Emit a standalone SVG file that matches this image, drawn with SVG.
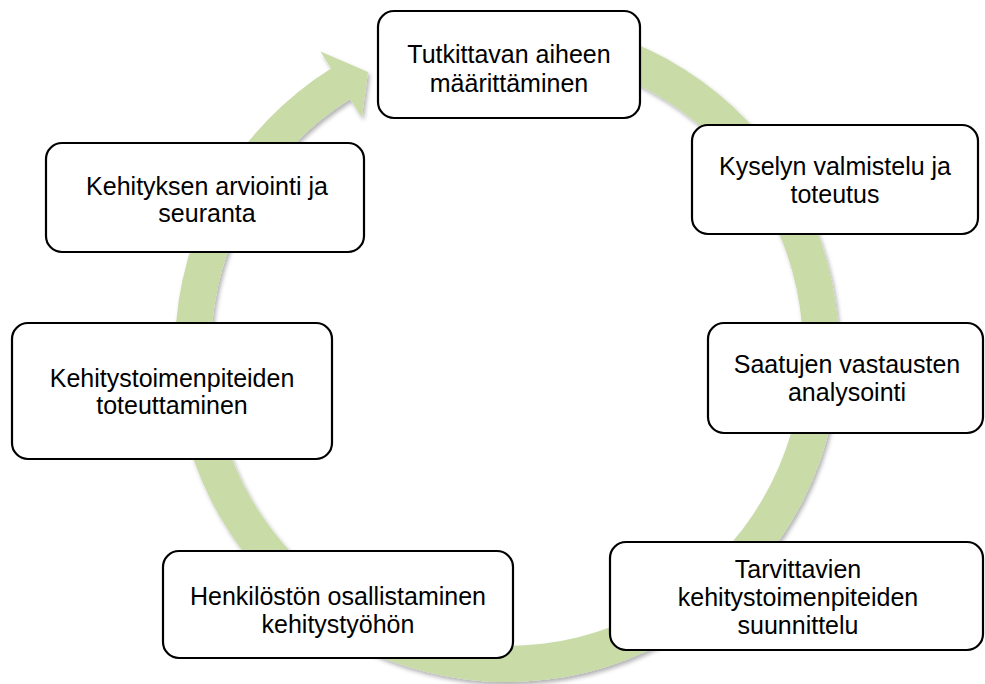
<svg xmlns="http://www.w3.org/2000/svg" width="985" height="684" viewBox="0 0 985 684">
  <style>
    .box { fill: #ffffff; stroke: #000000; stroke-width: 2.2; }
    .lbl { font-family: "Liberation Sans", Arial, sans-serif; font-size: 25px; fill: #000000; text-anchor: middle; }
    .ring { fill: #c9dba7; }
  </style>
  <defs>
    <filter id="shadow" x="-10%" y="-10%" width="120%" height="120%">
      <feDropShadow dx="2" dy="3" stdDeviation="2" flood-color="#000000" flood-opacity="0.3"/>
    </filter>
  </defs>
  <rect width="985" height="684" fill="#ffffff"/>

  <g id="connectors">
    <path class="ring" filter="url(#shadow)" d="M449.35,23.04 A332,332 0 1 1 331.07,68.45 L320.47,51.49 L368,72 L361.8,117.6 L350.14,98.98 A296,296 0 1 0 455.6,58.5 Z"/>
  </g>

  <g id="node1">
    <rect class="box" x="378" y="11" width="262" height="107" rx="16"/>
    <text class="lbl" x="509" y="63">Tutkittavan aiheen</text>
    <text class="lbl" x="509" y="92">määrittäminen</text>
  </g>
  <g id="node2">
    <rect class="box" x="692" y="125" width="286" height="109" rx="16"/>
    <text class="lbl" x="835" y="175">Kyselyn valmistelu ja</text>
    <text class="lbl" x="835" y="203">toteutus</text>
  </g>
  <g id="node3">
    <rect class="box" x="708" y="323" width="275" height="110" rx="16"/>
    <text class="lbl" x="847" y="373">Saatujen vastausten</text>
    <text class="lbl" x="847" y="401">analysointi</text>
  </g>
  <g id="node4">
    <rect class="box" x="610" y="542" width="373" height="108" rx="16"/>
    <text class="lbl" x="798" y="578">Tarvittavien</text>
    <text class="lbl" x="798" y="606">kehitystoimenpiteiden</text>
    <text class="lbl" x="798" y="634">suunnittelu</text>
  </g>
  <g id="node5">
    <rect class="box" x="163" y="551" width="350" height="107" rx="16"/>
    <text class="lbl" x="338" y="605">Henkilöstön osallistaminen</text>
    <text class="lbl" x="338" y="633">kehitystyöhön</text>
  </g>
  <g id="node6">
    <rect class="box" x="12" y="323" width="320" height="136" rx="16"/>
    <text class="lbl" x="172" y="387">Kehitystoimenpiteiden</text>
    <text class="lbl" x="172" y="414">toteuttaminen</text>
  </g>
  <g id="node7">
    <rect class="box" x="46" y="143" width="318" height="109" rx="16"/>
    <text class="lbl" x="207" y="195">Kehityksen arviointi ja</text>
    <text class="lbl" x="207" y="222">seuranta</text>
  </g>
</svg>
